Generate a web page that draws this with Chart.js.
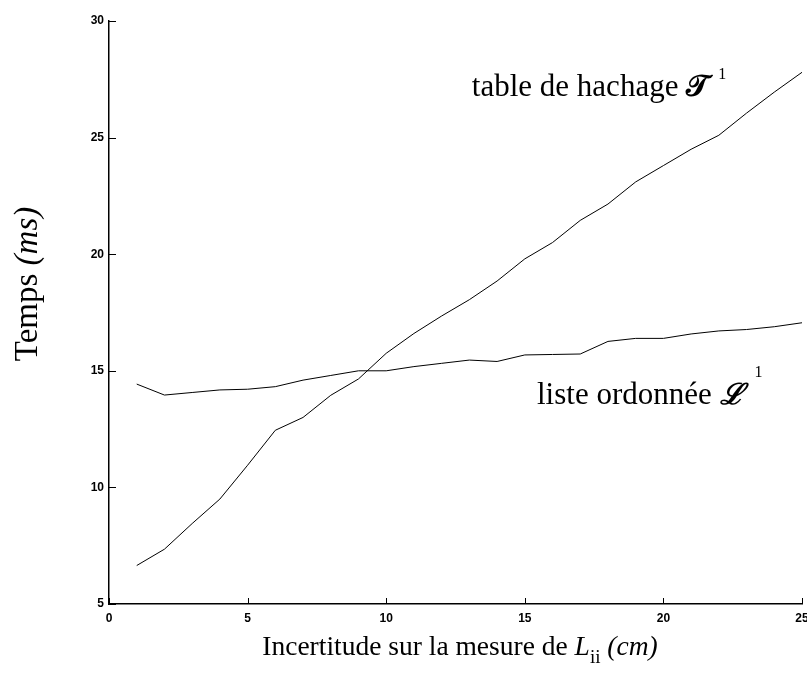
<!DOCTYPE html>
<html>
<head>
<meta charset="utf-8">
<style>
  html, body { margin: 0; padding: 0; background: #fff; }
  #wrap { width: 807px; height: 688px; }
</style>
<script src="https://cdn.jsdelivr.net/npm/chart.js@4.4.0/dist/chart.umd.min.js"></script>
</head>
<body>
<div id="wrap"><canvas id="c" width="807" height="688"></canvas></div>
<script>
// Incertitude sur la mesure (cm)
const incertitude = [1, 2, 3, 4, 5, 6, 7, 8, 9, 10, 11, 12, 13, 14, 15, 16, 17, 18, 19, 20, 21, 22, 23, 24, 25];

// Temps (ms) — table de hachage
const tempsHachage = [6.65, 7.35, 8.45, 9.5, 10.95, 12.45, 13.0, 13.95, 14.65, 15.75, 16.6, 17.35, 18.05, 18.85, 19.8,
                      20.5, 21.45, 22.15, 23.1, 23.8, 24.5, 25.1, 26.05, 26.95, 27.8];

// Temps (ms) — liste ordonnée
const tempsListe = [14.43, 13.96, 14.07, 14.18, 14.21, 14.32, 14.6, 14.8, 15.0, 15.0, 15.18, 15.32, 15.46, 15.4, 15.68,
                    15.7, 15.72, 16.26, 16.39, 16.39, 16.58, 16.71, 16.77, 16.89, 17.06];

const xTicks = [0, 5, 10, 15, 20, 25];
const yTicks = [5, 10, 15, 20, 25, 30];

const SERIF = '"Liberation Serif", "Times New Roman", "DejaVu Serif", serif';
const SANS = '"Liberation Sans", Arial, "DejaVu Sans", sans-serif';

function toPoints(xs, ys) {
  return xs.map((x, i) => ({ x: x, y: ys[i] }));
}

// Draws a sequence of text pieces with their own fonts, gaps and baseline shifts.
function drawRuns(ctx, runs, x, y, align) {
  let total = 0;
  runs.forEach(r => { ctx.font = r.font; r.w = ctx.measureText(r.text).width + (r.gap || 0); total += r.w; });
  let cx = align === 'center' ? x - total / 2 : x;
  runs.forEach(r => {
    ctx.font = r.font;
    ctx.fillText(r.text, cx + (r.gap || 0), y + (r.dy || 0));
    cx += r.w;
  });
}

const decorations = {
  id: 'decorations',
  afterDraw(chart) {
    const ctx = chart.ctx;
    const xs = chart.scales.x, ys = chart.scales.y;
    const area = chart.chartArea;
    ctx.save();

    // inward tick marks
    ctx.strokeStyle = '#000';
    ctx.lineWidth = 1;
    xTicks.forEach(v => {
      const px = Math.round(xs.getPixelForValue(v)) + 0.5;
      ctx.beginPath(); ctx.moveTo(px, area.bottom); ctx.lineTo(px, area.bottom - 6); ctx.stroke();
    });
    yTicks.forEach(v => {
      const py = Math.round(ys.getPixelForValue(v)) + 0.5;
      ctx.beginPath(); ctx.moveTo(area.left, py); ctx.lineTo(area.left + 7, py); ctx.stroke();
    });

    ctx.fillStyle = '#000';
    ctx.textBaseline = 'alphabetic';
    ctx.textAlign = 'left';

    // curve labels
    drawRuns(ctx, [
      { text: 'table de hachage ', font: '31px ' + SERIF },
      { text: '𝒯', font: 'bold 30px ' + SERIF },
      { text: '1', font: '16px ' + SERIF, dy: -17, gap: 9 }
    ], xs.getPixelForValue(13.09), ys.getPixelForValue(26.78), 'left');

    drawRuns(ctx, [
      { text: 'liste ordonnée ', font: '31px ' + SERIF },
      { text: 'ℒ', font: 'italic bold 29px ' + SERIF },
      { text: '1', font: '16px ' + SERIF, dy: -27, gap: 11 }
    ], xs.getPixelForValue(15.44), ys.getPixelForValue(13.58), 'left');

    // x axis title
    drawRuns(ctx, [
      { text: 'Incertitude sur la mesure de ', font: '27.5px ' + SERIF },
      { text: 'L', font: 'italic 27.5px ' + SERIF },
      { text: 'ii', font: '19px ' + SERIF, dy: 8 },
      { text: ' (cm)', font: 'italic 27.5px ' + SERIF }
    ], 460, 655, 'center');

    // y axis title
    ctx.translate(37, 284);
    ctx.rotate(-Math.PI / 2);
    drawRuns(ctx, [
      { text: 'Temps ', font: '33px ' + SERIF },
      { text: '(ms)', font: 'italic 33px ' + SERIF }
    ], 0, 0, 'center');

    ctx.restore();
  }
};

const tickFont = { family: SANS, weight: 'bold', size: 12 };

new Chart(document.getElementById('c'), {
  type: 'line',
  data: {
    datasets: [
      {
        label: 'table de hachage',
        data: toPoints(incertitude, tempsHachage),
        borderColor: '#000', borderWidth: 1, pointRadius: 0, tension: 0, fill: false
      },
      {
        label: 'liste ordonnée',
        data: toPoints(incertitude, tempsListe),
        borderColor: '#000', borderWidth: 1, pointRadius: 0, tension: 0, fill: false
      }
    ]
  },
  options: {
    responsive: false,
    devicePixelRatio: 1,
    animation: false,
    layout: { padding: { top: 21, right: 5, left: 0, bottom: 0 } },
    plugins: { legend: { display: false }, tooltip: { enabled: false } },
    scales: {
      x: {
        type: 'linear', min: 0, max: 25,
        afterBuildTicks(s) { s.ticks = xTicks.map(v => ({ value: v })); },
        afterFit(s) { s.height = 84; s.paddingLeft = 0; s.paddingRight = 0; },
        ticks: { font: tickFont, color: '#000', padding: 7, maxRotation: 0, autoSkip: false },
        grid: { display: true, drawOnChartArea: false, drawTicks: false },
        border: { display: true, color: '#000', width: 1.5 }
      },
      y: {
        type: 'linear', min: 5, max: 30,
        afterBuildTicks(s) { s.ticks = yTicks.map(v => ({ value: v })); },
        afterFit(s) { s.width = 109; s.paddingTop = 0; s.paddingBottom = 0; },
        ticks: { font: tickFont, color: '#000', padding: 5, autoSkip: false },
        grid: { display: true, drawOnChartArea: false, drawTicks: false },
        border: { display: true, color: '#000', width: 1.5 }
      }
    }
  },
  plugins: [decorations]
});
</script>
</body>
</html>
